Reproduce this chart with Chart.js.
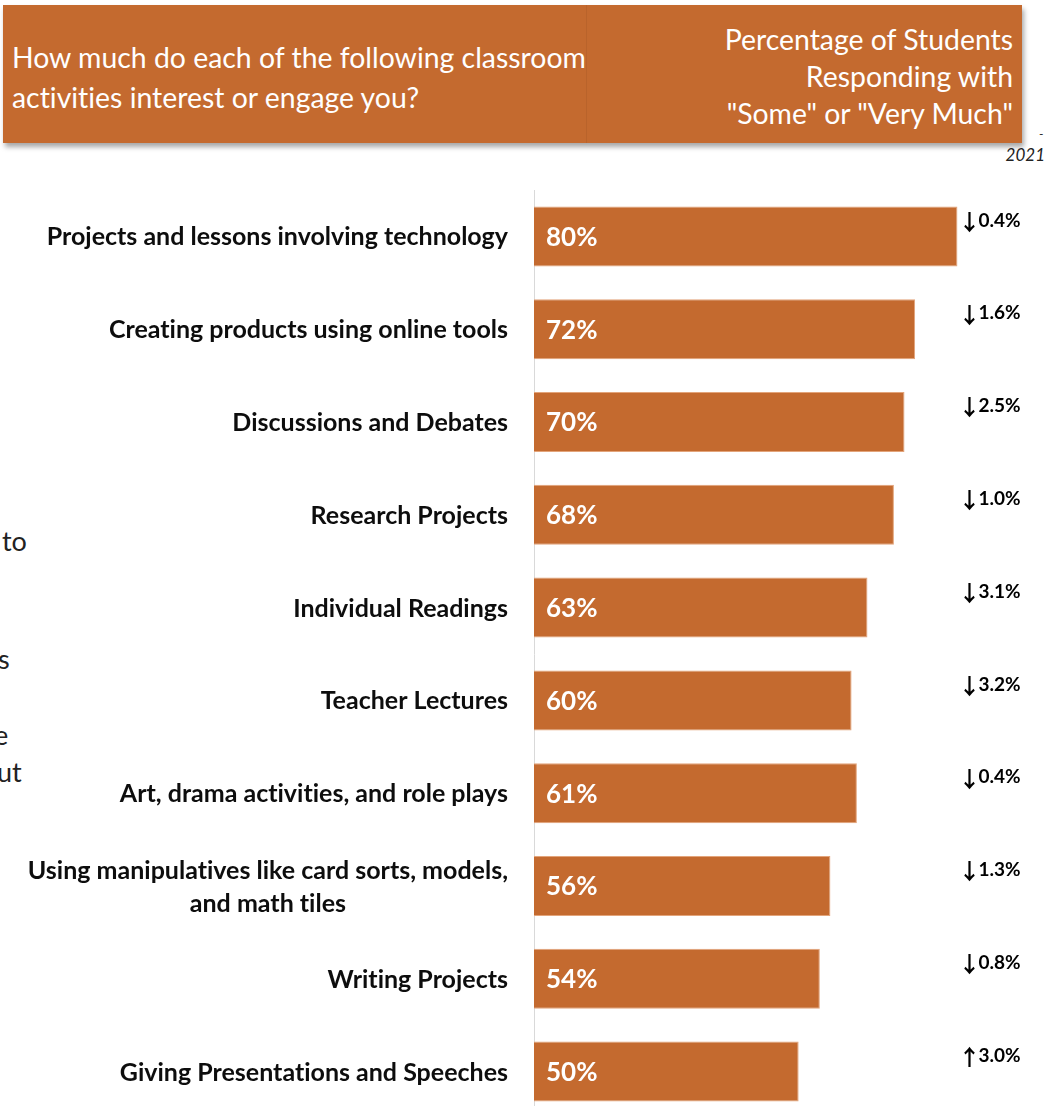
<!DOCTYPE html>
<html lang="en">
<head>
  <meta charset="UTF-8">
  <title>Classroom Activities Engagement</title>
  <script src="https://cdn.jsdelivr.net/npm/chart.js"></script>
  <style>
    body {
      margin: 0;
      width: 1058px;
      height: 1106px;
      overflow: hidden;
      background: #fff;
      position: relative;
      font-family: Lato, "Open Sans", sans-serif;
      font-variant-ligatures: none;
    }
    #header {
      position: absolute;
      left: 3px;
      top: 5px;
      width: 1019px;
      height: 138px;
      background: #C46A2F;
      box-shadow: 2px 4px 5px rgba(0, 0, 0, 0.35);
      color: #fff;
    }
    #divider {
      position: absolute;
      left: 583px;
      top: 0;
      width: 1px;
      height: 100%;
      background: #b9632b;
    }
    #question {
      position: absolute;
      left: 9px;
      top: 32px;
      font-size: 28.4px;
      line-height: 40px;
    }
    #measure {
      position: absolute;
      right: 9px;
      top: 16px;
      text-align: right;
      font-size: 28.4px;
      line-height: 37px;
    }
    #year {
      position: absolute;
      right: 13px;
      top: 144px;
      font-size: 17px;
      font-style: italic;
      color: #222;
    }
    #dash {
      position: absolute;
      left: 1039px;
      top: 126px;
      font-size: 12px;
      color: #222;
    }
    .frag {
      position: absolute;
      font-size: 27px;
      color: #222;
    }
    #chartBox {
      position: absolute;
      left: 0;
      top: 190px;
    }
  </style>
</head>
<body>

  <div id="header">
    <div id="divider"></div>
    <div id="question">How much do each of the following classroom<br>activities interest or engage you?</div>
    <div id="measure">Percentage of Students<br>Responding with<br>"Some" or "Very Much"</div>
  </div>
  <div id="dash">-</div>
  <div id="year">2021</div>

  <!-- cut-off text from the slide behind the chart -->
  <div class="frag" style="left:2px; top:524px;">to</div>
  <div class="frag" style="left:-2px; top:642px;">s</div>
  <div class="frag" style="left:-6px; top:718px;">e</div>
  <div class="frag" style="left:-3px; top:755px;">ut</div>

  <div id="chartBox">
    <canvas id="activityChart" width="1058" height="928"></canvas>
  </div>

  <script>
    const FONT = 'Lato, "Open Sans", sans-serif';

    const categories = [
      'Projects and lessons involving technology',
      'Creating products using online tools',
      'Discussions and Debates',
      'Research Projects',
      'Individual Readings',
      'Teacher Lectures',
      'Art, drama activities, and role plays',
      ['Using manipulatives like card sorts, models,', 'and math tiles'],
      'Writing Projects',
      'Giving Presentations and Speeches'
    ];
    const values = [80, 72, 70, 68, 63, 60, 61, 56, 54, 50];
    // change compared with the previous survey, percentage points
    const changes = [-0.4, -1.6, -2.5, -1.0, -3.1, -3.2, -0.4, -1.3, -0.8, 3.0];

    // text on and around each bar
    const barLabels = {
      id: 'barLabels',
      afterDatasetsDraw(chart) {
        const ctx = chart.ctx;
        const x = chart.scales.x;
        const meta = chart.getDatasetMeta(0);
        const changeX = x.getPixelForValue(Math.max(...values)) + 5;

        ctx.save();
        ctx.textRendering = 'optimizeSpeed';  // no "ti" ligature
        ctx.textBaseline = 'middle';
        meta.data.forEach((bar, i) => {
          // value inside the bar
          ctx.font = 'bold 26px ' + FONT;
          ctx.fillStyle = '#fff';
          ctx.textAlign = 'left';
          ctx.fillText(values[i] + '%', x.left + 12, bar.y + 1);

          // change arrow and amount
          const ty = bar.y - 16;
          ctx.fillStyle = '#000';
          ctx.font = 'bold 22px "Noto Sans CJK SC"';
          ctx.textAlign = 'center';
          ctx.fillText(changes[i] < 0 ? '\u2193' : '\u2191', changeX + 7, ty + 1);
          ctx.font = 'bold 19px ' + FONT;
          ctx.textAlign = 'left';
          ctx.fillText(Math.abs(changes[i]).toFixed(1) + '%', changeX + 16, ty);

          // category name, lines centred on each other, block right-aligned
          const lines = [].concat(categories[i]);
          ctx.font = 'bold 25px ' + FONT;
          ctx.fillStyle = '#0d0d0d';
          ctx.textAlign = 'center';
          const maxW = Math.max(...lines.map(l => ctx.measureText(l).width));
          const cx = x.left - 26 - maxW / 2;
          lines.forEach((l, k) => {
            ctx.fillText(l, cx, bar.y + 1 + (k - (lines.length - 1) / 2) * 33);
          });
        });
        ctx.restore();
      }
    };

    const ctx = document.getElementById('activityChart').getContext('2d');
    new Chart(ctx, {
      type: 'bar',
      data: {
        labels: categories,
        datasets: [{
          data: values,
          backgroundColor: '#C46A2F',
          borderColor: '#E3A47A',
          borderWidth: 1,
          barPercentage: 0.647,
          categoryPercentage: 1
        }]
      },
      options: {
        indexAxis: 'y',
        responsive: false,
        animation: false,
        layout: { padding: 0 },
        scales: {
          x: {
            display: false,
            min: 0,
            max: 99
          },
          y: {
            grid: { display: false, drawTicks: false },
            border: { display: true, color: '#d9d9d9', width: 1 },
            ticks: { display: false },
            afterFit(scale) { scale.width = 534; }
          }
        },
        plugins: {
          legend: { display: false },
          tooltip: { enabled: false }
        }
      },
      plugins: [barLabels]
    });
  </script>

</body>
</html>
